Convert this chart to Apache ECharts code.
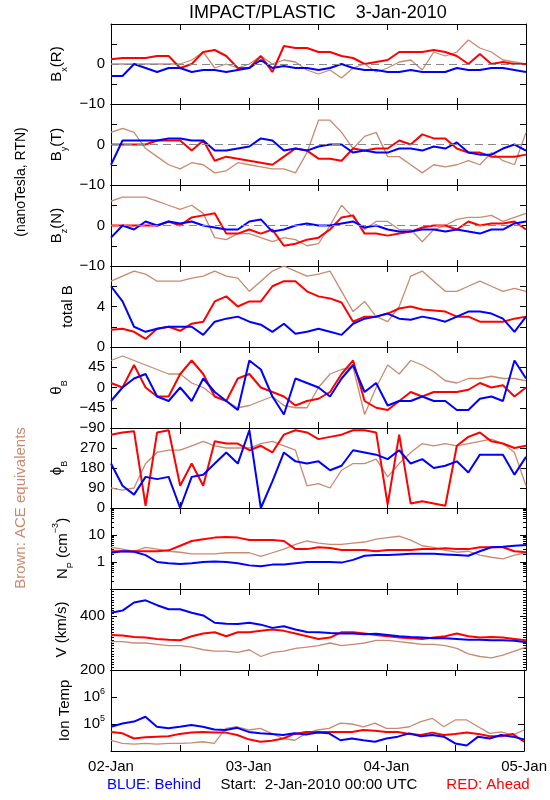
<!DOCTYPE html>
<html><head><meta charset="utf-8">
<script src="https://cdn.jsdelivr.net/npm/echarts@6/dist/echarts.min.js"></script>
<style>html,body{margin:0;padding:0;background:#fff}#c{width:550px;height:800px}</style>
</head><body><div id="c"></div>
<script>
// time in hours since 2-Jan-2010 00:00 UTC
const hours = [0,2,4,6,8,10,12,14,16,18,20,22,24,26,28,30,32,34,36,38,40,42,44,46,48,50,52,54,56,58,60,62,64,66,68,70,72];
const dayLabels = ['02-Jan','03-Jan','04-Jan','05-Jan'];

// Bx (R), nT
const bxRed   = [1.2,1.5,1.5,1.5,2,2,-1,0,3,3.5,2,-1,-1,2,-2,4.5,4,4,3,3,2,1.5,0,0.5,1,3,3,3,3.5,3,2,0,2.5,0,0.5,0,0];
const bxBlue  = [-3,-3,0,-1,-2,-1,-1,-2,-1.5,-1.5,-2,-1.5,-1,1,-1,-0.5,-1,-1,-1.5,-1,0,-1,-1.5,-1.5,-2,-2,-1.5,-2,-2,-2,-1,-1.5,-1.5,-1,-1,-1.5,-2];
const bxBrown = [0,0,0,0,0,0,0,1,3,-1,0,-1,0,2,0,1,0.5,-1.5,-2.5,-1.5,-3.5,-1,0,-2,-1,0.5,1,-1.5,3,2,3,6,4,3,1,0.5,0];
// By (T), nT
const byRed   = [0,0,0,0,1,1,1,-1.5,1,-4,-3,-3.5,-4,-4.5,-5,-3,-1,-1.5,-3.5,-3.5,-4,-1,-1.5,-1,-1,1,0,2.5,1.5,1.5,-1,-2,-2,-3,-3,-3,-2.5];
const byBlue  = [-5,1,1,1,1,1.5,1.5,1,1,-1.5,-1.5,-1,-0.5,1.5,1,-1.5,-1,-1.5,-0.5,0,0,-2,-1.5,-2,-2,-1,-1,-1.5,-0.5,-1,0.5,-2,-2.5,-2.5,-1,0,-1.5];
const byBrown = [3,4,3,-1,-3,-5,-6,-4.5,-5,-7,-6.5,-4.5,-5,-5.5,-6,-6,-7,-2,6,6,3,-1,2,3,-3,-3,-5,-7,-5,-5.5,-5,-4,-5,-2,-4,-5,3];
// Bz (N), nT
const bzRed   = [0,0,0,0,0,1,0,2,2.5,3,-2,-2,-1,-2,-1,-5,-4.5,-3.5,-3,-1,2,2.5,-2,-2,-2.5,-2,-1.5,-0.5,0,0,-1,1,0,0.5,0.5,1,-1];
const bzBlue  = [-3,0,-1,1,0,1,0.5,1,0,-0.5,-1,-1,1,1.5,-1.5,-1,0,0.5,0,0,0.5,1,-0.5,0,-1,-1.5,-1.5,-1,-1,-1.5,-1,-1.5,-2,-1,-1,0.5,1];
const bzBrown = [6,7,7,7,6,5,4,5,3,-3,-3.5,-2,-2,-3,-4,-3,-3.5,-5,-4.5,0,5,2,-1,1,1,-1,-1,-4,-1,0,1.5,2,2,2.5,1,2,3];
// total B, nT
const btRed   = [1.7,1.8,1.5,0.8,1.8,2,1.6,2.3,2.5,4.5,5,4,4.5,4.5,6,6.5,6.5,5.5,5,4.8,4.4,2.5,3,3,3.3,3.8,4,3.7,3.6,3.5,3,3,2.5,2.5,2.5,2.8,3];
const btBlue  = [6,4.5,2,1.5,1.8,2,2,2,1.2,2.5,2.8,3,2.5,2.2,1.5,2.3,1.3,1.5,1.8,1.5,1.2,2.3,2.8,3,3.3,2.8,2.7,3,2.8,2.5,3,3.5,3.5,3.3,2.8,1.5,3];
const btBrown = [6.5,7,7.5,7.2,6.5,6.5,6.5,6.8,7,7.5,7,6.8,5.5,6.5,7.5,8,7.5,7,7.2,7.5,5.5,3.5,4.5,3,2.5,4,7,7.5,6.5,5.5,5.5,6,6.5,6,5.5,5.8,5.5];
// theta_B, degrees
const thRed   = [10,0,50,0,-20,-20,30,60,30,-20,-30,20,30,0,-10,-20,-40,-30,-25,-10,30,60,-30,-45,-50,-30,-10,-20,-10,-10,-10,-5,10,0,5,-20,0];
const thBlue  = [-30,0,20,30,-20,-30,0,-30,20,-10,-30,-50,60,40,-20,-60,20,10,0,-20,20,50,-10,10,-40,-30,-30,-20,-30,-30,-50,-50,-25,-20,-30,60,20];
const thBrown = [60,70,60,50,40,30,30,10,0,-20,-30,-45,-40,-30,-20,-40,-45,-45,0,30,40,45,-60,0,50,30,60,50,35,15,10,20,20,25,20,20,15];
// phi_B, degrees
const phRed   = [330,340,345,10,340,350,100,200,100,300,290,290,260,280,250,330,350,340,310,320,330,350,350,340,15,330,20,30,20,10,280,320,340,300,290,270,280];
const phBlue  = [200,100,60,140,130,140,0,140,150,200,250,200,350,0,120,250,210,200,210,170,190,260,250,240,220,260,200,220,180,190,210,160,240,240,240,150,230];
const phBrown = [90,80,90,200,250,260,260,280,300,280,270,270,270,290,300,280,260,100,110,90,170,200,200,220,140,200,250,290,280,290,280,290,300,310,290,250,100];
// Np, cm^-3
const npRed   = [2.5,2.5,2.5,2.5,2.5,2.7,4,6,7,8,8.5,8,6.5,6.5,6.5,6,3,3,3.5,3.3,2.8,2.8,2.8,2.5,2.8,2.8,2.8,3,3,3.2,3,3,3.5,3.5,3.5,2.5,2.3];
const npBlue  = [2.2,2.5,2.4,1.8,1.0,0.9,0.85,0.9,1.0,1.05,1.0,0.9,0.75,0.7,0.8,0.8,0.9,1.0,1.0,1.0,0.95,1.2,1.7,1.8,1.8,1.9,2.0,2.0,2.0,1.9,1.8,1.7,2.5,3.5,3.7,4,4.3];
const npBrown = [3.5,3,2.5,3.5,3,2.5,2.3,2.0,2.0,2.0,2.2,2.2,2.2,1.6,2.2,3,4.5,6,5,4.5,4.5,5,5.5,7,8,9,6.5,4,3.5,2.7,2.3,2.5,1.8,1.5,1.3,1.8,2.2];
// V, km/s
const vRed    = [330,328,322,320,315,312,310,325,335,340,325,340,340,345,350,345,335,325,315,320,340,340,335,330,325,320,318,315,320,325,335,325,320,322,320,315,310];
const vBlue   = [412,420,450,458,440,425,425,412,402,375,371,370,375,368,356,362,350,341,340,337,335,335,332,334,330,325,322,320,318,318,315,312,312,310,310,308,303];
const vBrown  = [305,305,300,300,295,290,290,285,275,270,270,265,275,250,265,270,280,285,290,300,290,295,300,310,310,305,300,295,295,290,280,260,250,245,255,270,285];
// Ion temperature, K
const tRed    = [51000,45000,29000,32000,34000,35000,43000,48000,51000,48000,48000,39000,27000,22000,24000,29000,43000,51000,51000,51000,51000,51000,60000,56000,51000,51000,43000,39000,48000,39000,43000,48000,43000,35000,35000,43000,22000];
const tBlue   = [79000,105000,123000,186000,79000,69000,79000,91000,79000,63000,60000,72000,51000,45000,43000,39000,45000,41000,48000,45000,25000,29000,25000,22000,29000,34000,45000,35000,39000,34000,19000,16000,34000,29000,39000,34000,27000];
const tBrown  = [25000,19000,18000,19000,18000,19000,19000,20000,22000,19000,69000,79000,60000,69000,45000,29000,25000,45000,60000,69000,107000,100000,79000,107000,69000,69000,79000,123000,162000,79000,141000,141000,79000,45000,51000,39000,60000];

const FONT = 'Liberation Sans';
const RED = '#ff0000', BLUE = '#0000ff', BROWN = '#c98a70';

const panels = [
  {name:'B{sub|x}(R)', min:-10, max:10, interval:5, labels:[-10,0], zero:true, d:[bxBrown,bxRed,bxBlue]},
  {name:'B{sub|y}(T)', min:-10, max:10, interval:5, labels:[-10,0], zero:true, d:[byBrown,byRed,byBlue]},
  {name:'B{sub|z}(N)', min:-10, max:10, interval:5, labels:[-10,0], zero:true, d:[bzBrown,bzRed,bzBlue]},
  {name:'total B', min:0, max:8, interval:2, labels:[0,4], d:[btBrown,btRed,btBlue]},
  {name:'θ{sub|B}', min:-90, max:90, interval:45, labels:[-90,-45,0,45], d:[thBrown,thRed,thBlue]},
  {name:'ϕ{sub|B}', min:0, max:360, interval:90, labels:[0,90,180,270], d:[phBrown,phRed,phBlue]},
  {name:'N{sub|P} (cm{sup|−3})', log:true, min:0.1, max:100, labels:[1,10], minor:9, d:[npBrown,npRed,npBlue]},
  {name:'V (km/s)', min:200, max:500, interval:200, labels:[200,400], minor:20, d:[vBrown,vRed,vBlue]},
  {name:'Ion Temp', log:true, min:1e4, max:1e7, labels:[1e5,1e6], sup:true, d:[tBrown,tRed,tBlue]}
];

const grids = [], xAxes = [], yAxes = [], series = [];
const tickStyle = {color:'#000', width:1};
panels.forEach((p, i) => {
  const top = Math.round(23.5 + i * 80.8), bot = Math.round(23.5 + (i + 1) * 80.8);
  grids.push({left:111, right:24, top:top, height:bot - top});
  const last = i === panels.length - 1;
  const xBase = {gridIndex:i, type:'value', min:0, max:72, interval:12,
    axisLine:{onZero:false, lineStyle:tickStyle},
    axisTick:{inside:true, length:6, lineStyle:tickStyle}, splitLine:{show:false}};
  xAxes.push(Object.assign({}, xBase, {position:'bottom',
    axisLabel:{show:last, margin:8, fontSize:15, fontFamily:FONT, color:'#000',
      formatter: v => (v % 24 === 0 ? dayLabels[v / 24] : '')}}));
  xAxes.push(Object.assign({}, xBase, {position:'top', axisLabel:{show:false}}));

  const isLab = v => p.labels.some(l => p.log ? Math.abs(Math.log10(v) - Math.log10(l)) < 1e-6 : Math.abs(v - l) < 1e-9);
  const fmt = v => {
    if (!isLab(v)) return '';
    if (p.sup) return '10{sup|' + Math.round(Math.log10(v)) + '}';
    return v < 0 ? '−' + Math.abs(v) : String(v);
  };
  const yBase = {gridIndex:i, type:p.log ? 'log' : 'value', min:p.min, max:p.max,
    splitLine:{show:false},
    axisLine:{show:true, onZero:false, lineStyle:tickStyle},
    axisTick:{show:true, inside:true, length:6, lineStyle:tickStyle},
    minorTick: p.minor ? {show:true, splitNumber:p.minor, length:3, lineStyle:tickStyle} : {show:false}};
  if (p.log) yBase.logBase = 10; else yBase.interval = p.interval;
  yAxes.push(Object.assign({}, yBase, {position:'left',
    name:p.name, nameLocation:'middle', nameRotate:90, nameGap:36,
    nameTextStyle:{fontSize:15, fontFamily:FONT, color:'#000',
      rich:{sub:{fontSize:9, fontFamily:FONT, padding:[0,0,0,0], verticalAlign:'bottom', lineHeight:24},
            sup:{fontSize:9, fontFamily:FONT, verticalAlign:'top', lineHeight:24}}},
    axisLabel:{show:true, margin:6, fontSize:15, fontFamily:FONT, color:'#000', formatter:fmt,
      showMinLabel:true, showMaxLabel:true, hideOverlap:false,
      rich:{sup:{fontSize:9, fontFamily:FONT, padding:[0,0,10,0]}}}}));
  yAxes.push(Object.assign({}, yBase, {position:'right', axisLabel:{show:false}}));

  const colors = [BROWN, RED, BLUE];
  const widths = [1.3, 2, 2];
  p.d.forEach((arr, k) => {
    const s = {type:'line', xAxisIndex:2 * i, yAxisIndex:2 * i,
      data:hours.map((h, j) => [h, arr[j]]), showSymbol:false, symbol:'none',
      lineStyle:{color:colors[k], width:widths[k]}, itemStyle:{color:colors[k]},
      animation:false, silent:true, z:2 + k};
    if (k === 0 && p.zero) {
      s.markLine = {silent:true, symbol:'none', label:{show:false}, animation:false,
        lineStyle:{color:'#888', type:[8,5], width:1}, data:[{yAxis:0}]};
    }
    series.push(s);
  });
});

const txt = (x, y, text, color, size, rot) => ({type:'text', x:x, y:y, rotation:rot || 0,
  style:{text:text, fill:color, font:size + 'px "' + FONT + '"', align:'center', verticalAlign:'middle'}});

const chart = echarts.init(document.getElementById('c'), null, {renderer:'canvas'});
chart.setOption({
  animation:false,
  backgroundColor:'#fff',
  grid:grids, xAxis:xAxes, yAxis:yAxes, series:series,
  graphic:[
    txt(318, 13, 'IMPACT/PLASTIC    3-Jan-2010', '#000', 18),
    txt(21, 182, '(nanoTesla, RTN)', '#000', 14, Math.PI / 2),
    txt(21, 508, 'Brown: ACE equivalents', BROWN, 15, Math.PI / 2),
    txt(154, 785, 'BLUE: Behind', BLUE, 15),
    txt(319, 785, 'Start:  2-Jan-2010 00:00 UTC', '#000', 15),
    txt(488, 785, 'RED: Ahead', RED, 15)
  ]
});
</script>
</body></html>
